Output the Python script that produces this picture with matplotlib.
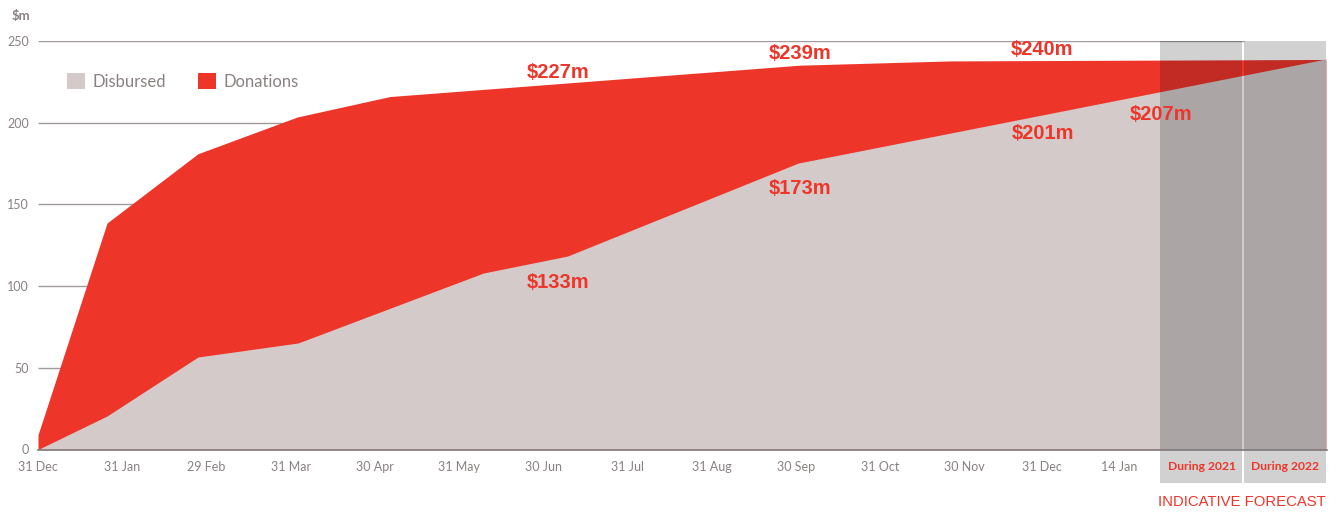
#%%### Imports
import numpy as np
import matplotlib as mpl
import matplotlib.pyplot as plt
from matplotlib.patches import Rectangle
from matplotlib.transforms import blended_transform_factory


#%%### Data ($m, cumulative). x is in months from 31 Dec
donations_x = [0, 0, 0.82, 1.90, 3.08, 4.18, 9.05, 10.83, 15.30]
donations = [0, 9, 138.6, 181, 203.5, 216, 235.2, 237.8, 238.7]

disbursed_x = [0, 0.82, 1.90, 3.09, 5.29, 6.29, 9.03, 15.30]
disbursed = [0, 20.5, 56.6, 65.2, 108, 118.4, 175.3, 239]

tick_pos = [0, 1, 2, 3, 4, 5, 6, 7, 8, 9, 10, 11, 11.92, 12.84, 13.82, 14.81]
tick_labels = [
    '31 Dec', '31 Jan', '29 Feb', '31 Mar', '30 Apr', '31 May', '30 Jun',
    '31 Jul', '31 Aug', '30 Sep', '31 Oct', '30 Nov', '31 Dec', '14 Jan',
    'During 2021', 'During 2022',
]
forecast_bands = [(13.33, 14.30), (14.32, 15.30)]

callouts = ['$227m', '$239m', '$240m', '$133m', '$173m', '$201m', '$207m']
callout_x = [6.18, 9.05, 11.93, 6.18, 9.05, 11.94, 13.34]
callout_y = [231, 242.6, 245, 102.5, 160, 193.6, 205]

#%%### Style
red = '#ed3529'
grey_fill = '#d3cac9'
text_grey = '#8a8181'
grid_grey = '#a39b9b'
plt.rcParams['font.family'] = ['Lato', 'DejaVu Sans']

#%%### Plot
plt.close()
f, ax = plt.subplots(figsize=(13.39, 5.12), dpi=100)
f.subplots_adjust(left=38/1339, right=1327/1339, bottom=(512-449.5)/512, top=(512-41)/512)

ax.fill_between(donations_x, donations, color=red, lw=0, zorder=1)
ax.fill_between(disbursed_x, disbursed, color=grey_fill, lw=0, zorder=1.1)

## Gridlines stop at the 2022 band
ax.hlines([50, 100, 150, 200, 250], 0, forecast_bands[1][0], color=grid_grey, lw=1, zorder=0.5)

## Forecast bands (darken like a multiply overlay), extend under the tick labels
trans = blended_transform_factory(ax.transData, ax.transAxes)
for x0, x1 in forecast_bands:
    ax.add_patch(Rectangle(
        (x0, -0.082), x1 - x0, 1.082, transform=trans,
        facecolor='#000008', alpha=0.18, lw=0, clip_on=False, zorder=1.3,
    ))

ax.set_xlim(0, 15.31)
ax.set_ylim(0, 250)
ax.set_xticks(tick_pos)
ax.set_xticklabels(tick_labels)
ax.set_yticks([0, 50, 100, 150, 200, 250])
ax.tick_params(axis='x', length=0, pad=8, labelsize=9, labelcolor=text_grey)
ax.tick_params(axis='y', length=0, pad=6.5, labelsize=9, labelcolor=text_grey)
for lab in ax.get_xticklabels()[-2:]:
    lab.set_color(red)
    lab.set_fontweight('bold')
    lab.set_fontsize(8.7)

for side in ['top', 'right', 'left']:
    ax.spines[side].set_visible(False)
ax.spines['bottom'].set_color('#807878')
ax.spines['bottom'].set_linewidth(1.2)

## Callouts
for label, x, y in zip(callouts, callout_x, callout_y):
    ax.text(x, y, label, ha='center', va='center', color=red, fontsize=14.5,
            fontweight='bold', family='Liberation Sans', zorder=5)

ax.text(15.30, -0.1285, 'INDICATIVE FORECAST', transform=trans, ha='right', va='center',
        color=red, fontsize=10.7, family='Liberation Sans')
f.text(12/1339, 1 - 16/512, '$m', ha='left', va='center', color=text_grey,
       fontsize=9.5, fontweight='bold')

handles = [
    mpl.patches.Patch(facecolor=grey_fill, label='Disbursed'),
    mpl.patches.Patch(facecolor=red, label='Donations'),
]
leg = ax.legend(
    handles=handles, loc='upper left', bbox_to_anchor=(29/1289, 0.922),
    ncol=2, frameon=False, fontsize=12, borderpad=0, borderaxespad=0,
    handlelength=1.1, handleheight=1.1, handletextpad=0.45, columnspacing=1.9,
)
for t in leg.get_texts():
    t.set_color(text_grey)

plt.savefig('out.png', dpi=100)
